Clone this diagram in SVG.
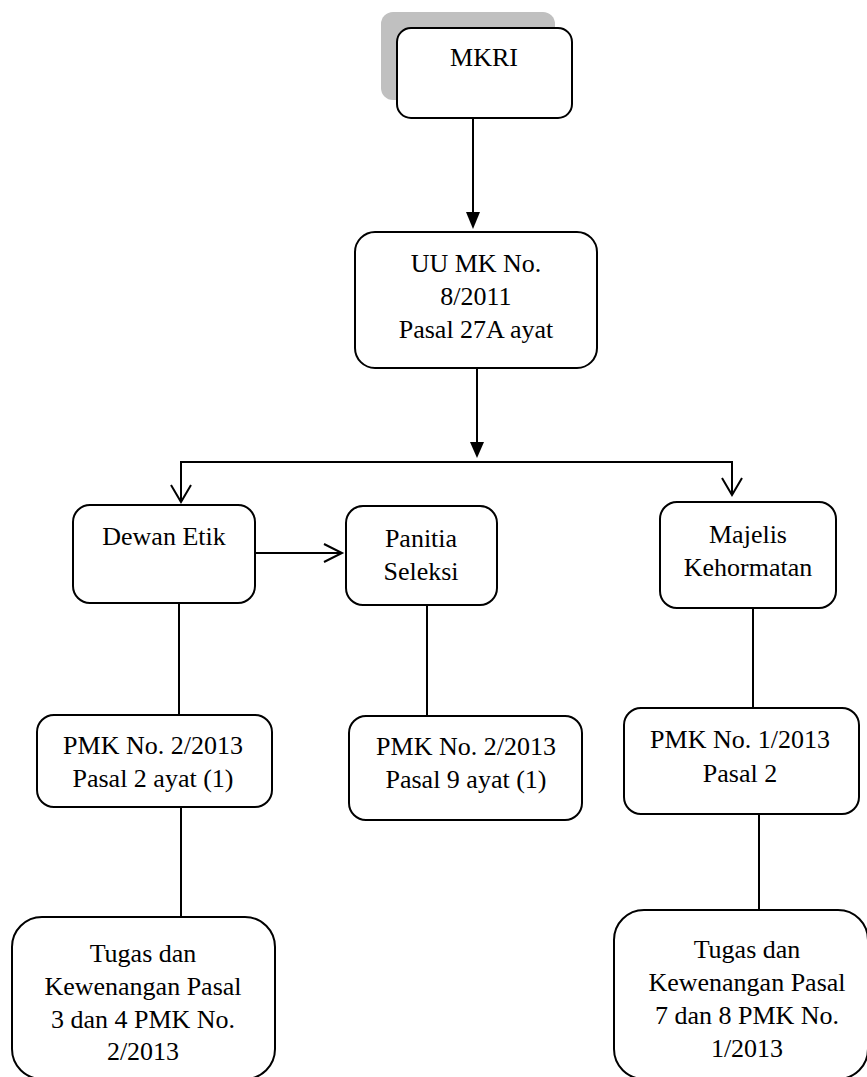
<svg xmlns="http://www.w3.org/2000/svg" width="867" height="1077" viewBox="0 0 867 1077">
<style>
.box{fill:#fff;stroke:#000;stroke-width:2}
.shadow{fill:#c0c0c0;stroke:none}
.t{font-family:'Liberation Serif','Times New Roman',Tinos,'DejaVu Serif',serif;font-size:26px;fill:#000;text-anchor:middle}
.ln{stroke:#000;stroke-width:2;fill:none}
.head{fill:#000;stroke:none}
</style>
<rect x="0" y="0" width="867" height="1077" fill="#fff"/>
<g id="connectors">
<line class="ln" x1="473" y1="118" x2="473" y2="214"/>
<polygon class="head" points="466,212 480,212 473,229"/>
<line class="ln" x1="477" y1="368" x2="477" y2="444"/>
<polygon class="head" points="470,442 484,442 477,458"/>
<line class="ln" x1="180" y1="462" x2="733" y2="462"/>
<line class="ln" x1="181" y1="462" x2="181" y2="501"/>
<polyline class="ln" points="171,485 181,502 191,485"/>
<line class="ln" x1="732" y1="462" x2="732" y2="494"/>
<polyline class="ln" points="722,478 732,495 742,478"/>
<line class="ln" x1="255" y1="553" x2="341" y2="553"/>
<polyline class="ln" points="324,544 342,553 324,562"/>
<line class="ln" x1="179" y1="603" x2="179" y2="715"/>
<line class="ln" x1="427" y1="605" x2="427" y2="716"/>
<line class="ln" x1="181" y1="807" x2="181" y2="917"/>
<line class="ln" x1="753" y1="608" x2="753" y2="708"/>
<line class="ln" x1="759" y1="814" x2="759" y2="910"/>
</g>
<g id="mkri">
<rect class="shadow" x="381" y="12" width="174" height="88" rx="12"/>
<rect class="box" x="397" y="28" width="175" height="90" rx="14"/>
<text class="t" font-family="Liberation Serif" x="484" y="66">MKRI</text>
</g>
<g id="uu-mk">
<rect class="box" x="355" y="232" width="242" height="136" rx="20"/>
<text class="t" x="476" y="272">UU MK No.</text>
<text class="t" x="476" y="305">8/2011</text>
<text class="t" x="476" y="338">Pasal 27A ayat</text>
</g>
<g id="dewan-etik">
<rect class="box" x="73" y="505" width="182" height="98" rx="17"/>
<text class="t" x="164" y="545">Dewan Etik</text>
</g>
<g id="panitia-seleksi">
<rect class="box" x="346" y="506" width="151" height="99" rx="17"/>
<text class="t" x="421" y="547">Panitia</text>
<text class="t" x="421" y="580">Seleksi</text>
</g>
<g id="majelis-kehormatan">
<rect class="box" x="660" y="502" width="176" height="106" rx="17"/>
<text class="t" x="748" y="543">Majelis</text>
<text class="t" x="748" y="576">Kehormatan</text>
</g>
<g id="pmk-2-2013-pasal2">
<rect class="box" x="37" y="715" width="235" height="92" rx="17"/>
<text class="t" x="153" y="754">PMK No. 2/2013</text>
<text class="t" x="153" y="787">Pasal 2 ayat (1)</text>
</g>
<g id="pmk-2-2013-pasal9">
<rect class="box" x="349" y="716" width="233" height="104" rx="17"/>
<text class="t" x="466" y="755">PMK No. 2/2013</text>
<text class="t" x="466" y="788">Pasal 9 ayat (1)</text>
</g>
<g id="pmk-1-2013">
<rect class="box" x="624" y="708" width="235" height="106" rx="17"/>
<text class="t" x="740" y="748">PMK No. 1/2013</text>
<text class="t" x="740" y="782">Pasal 2</text>
</g>
<g id="tugas-kiri">
<rect class="box" x="12" y="917" width="263" height="162" rx="30"/>
<text class="t" x="143" y="962">Tugas dan</text>
<text class="t" x="143" y="995">Kewenangan Pasal</text>
<text class="t" x="143" y="1028">3 dan 4 PMK No.</text>
<text class="t" x="143" y="1060">2/2013</text>
</g>
<g id="tugas-kanan">
<rect class="box" x="614" y="910" width="254" height="169" rx="30"/>
<text class="t" x="747" y="958">Tugas dan</text>
<text class="t" x="747" y="991">Kewenangan Pasal</text>
<text class="t" x="747" y="1024">7 dan 8 PMK No.</text>
<text class="t" x="747" y="1057">1/2013</text>
</g>
</svg>
